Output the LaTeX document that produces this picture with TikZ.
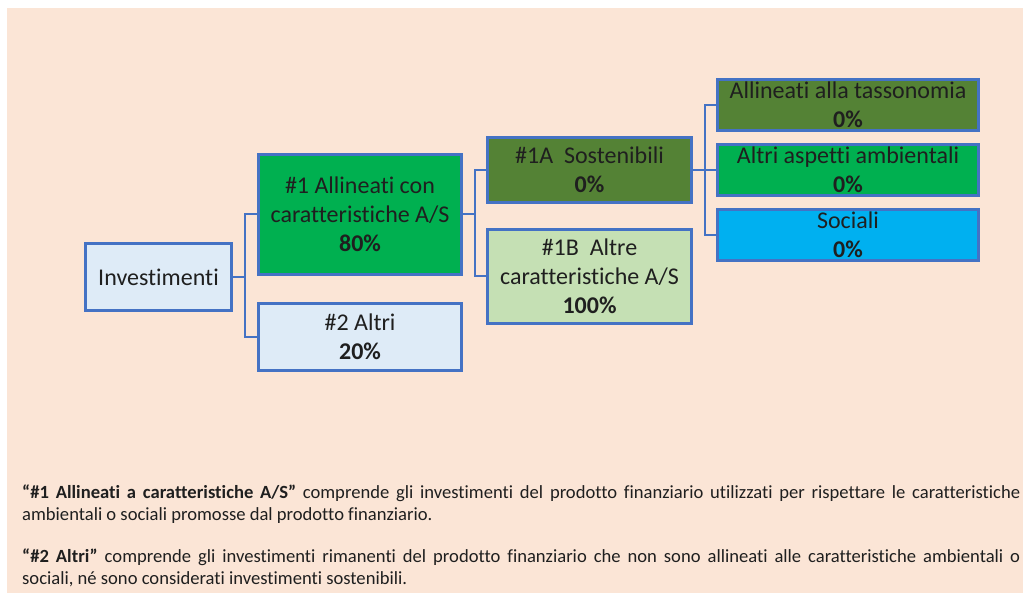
\documentclass[tikz,border=0pt]{standalone}
\usepackage{fontspec}
\setmainfont[Ligatures=NoCommon]{Carlito}
\usepackage{tikz}
\usetikzlibrary{positioning}

\definecolor{peach}{HTML}{FBE5D6}
\definecolor{boxblue}{HTML}{4472C4}
\definecolor{paleblue}{HTML}{DEEBF7}
\definecolor{fullgreen}{HTML}{00B050}
\definecolor{olive}{HTML}{548235}
\definecolor{palegreen}{HTML}{C5E0B4}
\definecolor{skyblue}{HTML}{00B0F0}
\definecolor{ink}{HTML}{1F1F1F}

\tikzset{
	box/.style={rectangle, draw=boxblue, line width=2.8pt, align=center,
		inner sep=0pt, text=ink, font=\fontsize{24}{29}\selectfont},
	link/.style={draw=boxblue, line width=2pt},
	note/.style={anchor=north west, text width=998pt, align=justify,
		inner sep=0pt, text=ink, font=\fontsize{18.6}{22}\selectfont}
}

\begin{document}
\begin{tikzpicture}[x=1pt,y=-1pt,node distance=3cm,on grid]

		% Background
		\useasboundingbox (0,0) rectangle (1023,593);
		\fill[peach] (7,8) rectangle (1023,593);

		% Investimenti
		\node[box,
			fill=paleblue,
			minimum width=146.5pt, minimum height=67.5pt] (inv) at (158.5,277) {Investimenti};

		% #1 Allineati
		\node[box,
			fill=fullgreen,
			minimum width=203.5pt, minimum height=120.5pt,
			above right = 62.5pt and 201.5pt of inv] (allin) {\#1 Allineati con\\caratteristiche A/S\\\textbf{80\%}};

		% #2 Altri
		\node[box,
			fill=paleblue,
			minimum width=203.5pt, minimum height=67.5pt,
			below = 122.5pt of allin] (altri) {\#2 Altri\\\textbf{20\%}};

		% #1A Sostenibili
		\node[box,
			fill=olive,
			minimum width=204.5pt, minimum height=65.5pt,
			above right = 44.5pt and 229.5pt of allin] (sost) {\#1A~ Sostenibili\\\textbf{0\%}};

		% #1B Altre
		\node[box,
			fill=palegreen,
			minimum width=204.5pt, minimum height=94.5pt,
			below = 106.5pt of sost] (altre) {\#1B~ Altre\\caratteristiche A/S\\\textbf{100\%}};

		% Altri aspetti ambientali
		\node[box,
			fill=fullgreen,
			minimum width=261.5pt, minimum height=50.5pt,
			right = 258.5pt of sost] (ambient) {Altri aspetti ambientali\\\textbf{0\%}};

		% Allineati alla tassonomia
		\node[box,
			fill=olive,
			minimum width=261.5pt, minimum height=50.5pt,
			above = 65pt of ambient] (tasso) {Allineati alla tassonomia\\\textbf{0\%}};

		% Sociali
		\node[box,
			fill=skyblue,
			minimum width=261.5pt, minimum height=50.5pt,
			below = 65pt of ambient] (social) {Sociali\\\textbf{0\%}};

		\draw[link] (inv.east) -- ++(12,0) |- (allin.west)
		(inv.east) -- ++(12,0) |- (altri.west)
		(allin.east) -- ++(11.5,0) |- (sost.west)
		(allin.east) -- ++(11.5,0) |- (altre.west)
		(sost.east) -- ++(11.5,0) |- (tasso.west)
		(sost.east) -- ++(11.5,0) |- (ambient.west)
		(sost.east) -- ++(11.5,0) |- (social.west)
		;

		% Notes
		\node[note] (def1) at (22,485) {\textbf{“\#1 Allineati a caratteristiche A/S”} comprende gli investimenti del prodotto finanziario utilizzati per rispettare le caratteristiche\linebreak ambientali o sociali promosse dal prodotto finanziario.};
		\node[note] (def2) at (22,549) {\textbf{“\#2 Altri”} comprende gli investimenti rimanenti del prodotto finanziario che non sono allineati alle caratteristiche ambientali o\linebreak sociali, né sono considerati investimenti sostenibili.};
	\end{tikzpicture}
\end{document}
